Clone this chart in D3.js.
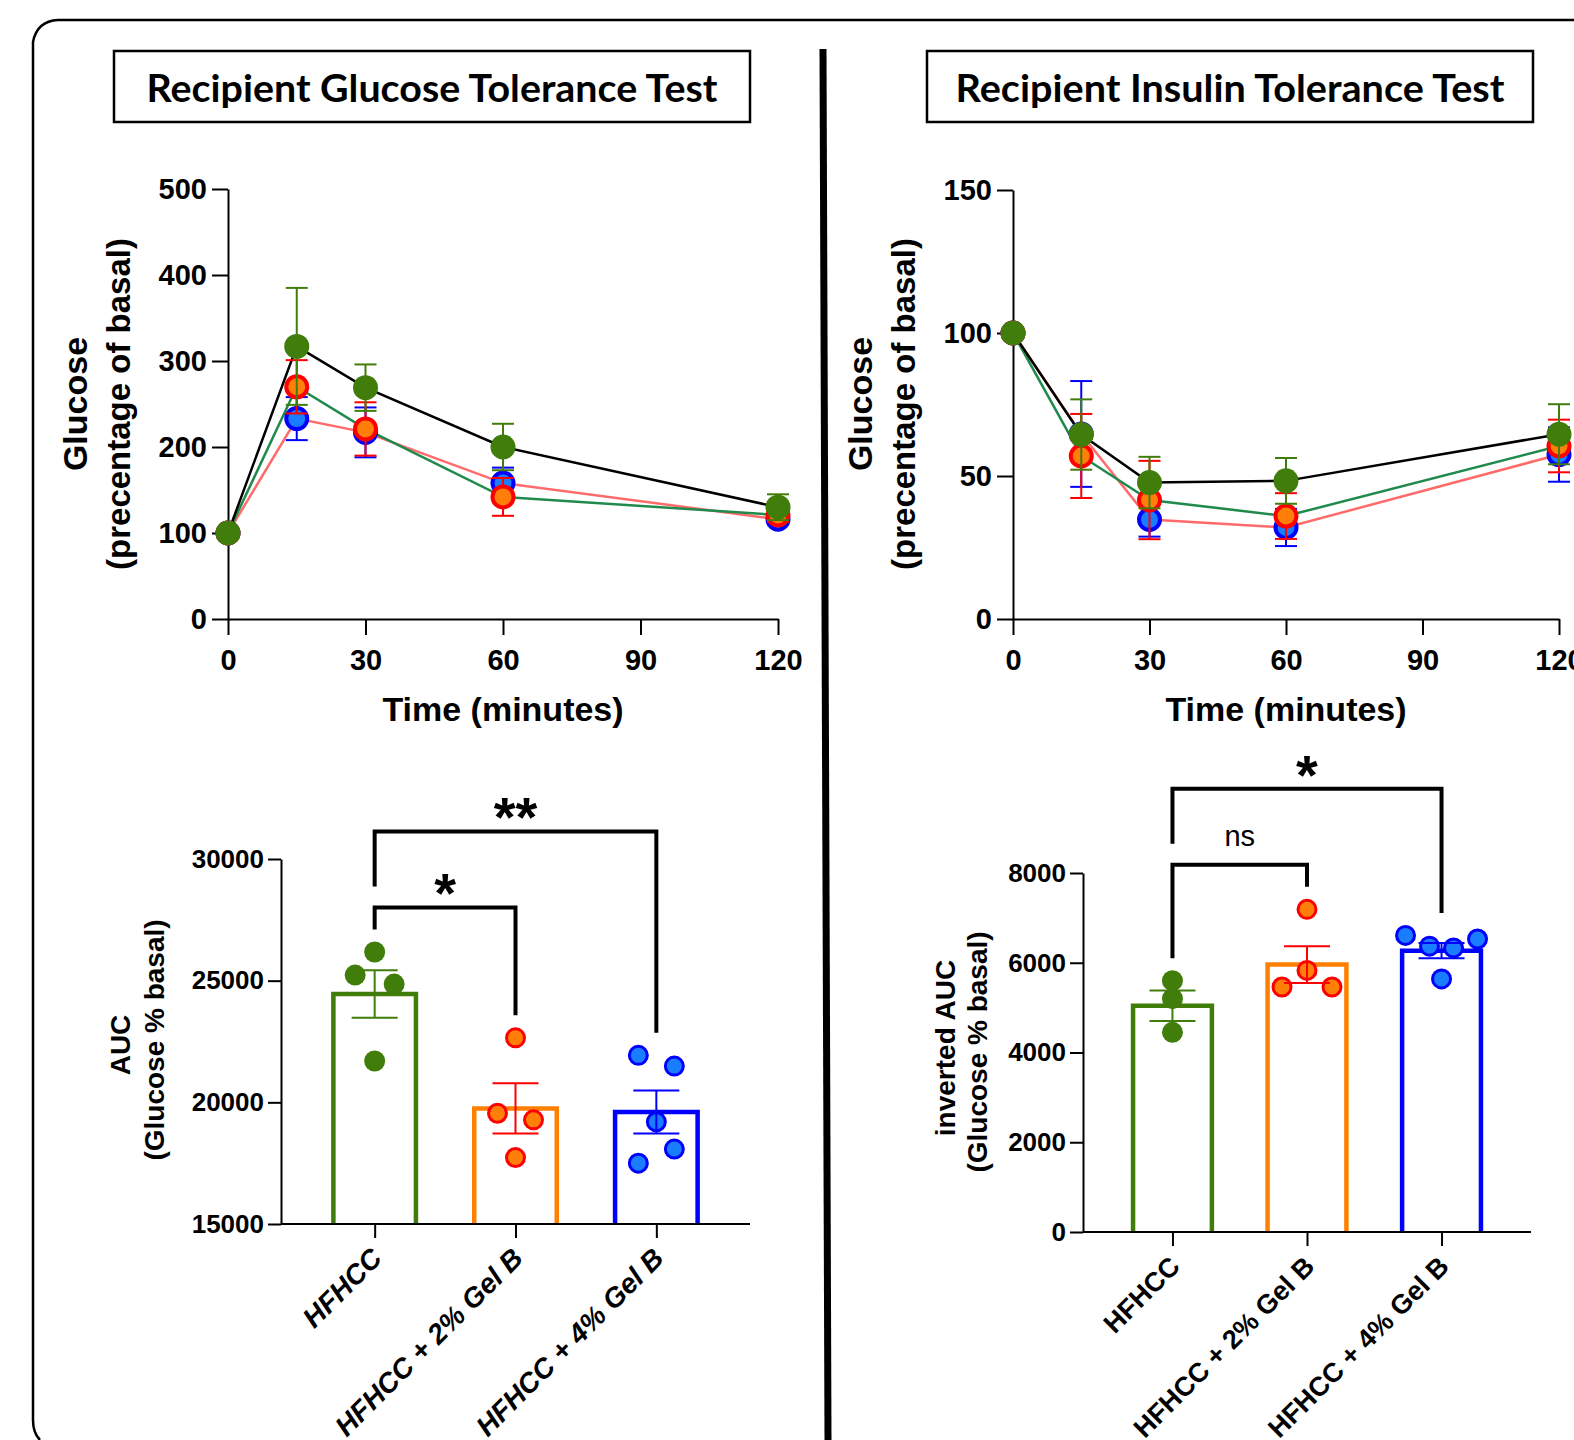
<!DOCTYPE html>
<html>
<head>
<meta charset="UTF-8">
<title>Recipient GTT / ITT</title>
<script src="https://d3js.org/d3.v7.min.js"></script>
<style>
  body { margin: 0; background: #fff; }
  svg text { font-family: "Liberation Sans", Arial, sans-serif; fill: #000; }
</style>
</head>
<body>
<svg id="fig" width="1574" height="1440"></svg>
<script>
// ---- data ----
var times = [0, 15, 30, 60, 120];
var groups = ["HFHCC", "HFHCC + 2% Gel B", "HFHCC + 4% Gel B"];

// glucose tolerance test, glucose as % of basal (mean and sem)
var gttHFHCC = [100, 317, 269, 200, 130];
var gttHFHCCsem = [0, 68, 27, 27, 15];
var gtt2 = [100, 270, 221, 142, 121];
var gtt2sem = [0, 31, 31, 22, 8];
var gtt4 = [100, 233, 217, 158, 116];
var gtt4sem = [0, 25, 29, 18, 6];

// insulin tolerance test
var ittHFHCC = [100, 64.5, 47.7, 48.3, 64.6];
var ittHFHCCsem = [0, 12.3, 9, 8, 10.5];
var itt2 = [100, 57, 41.6, 36, 60.5];
var itt2sem = [0, 14.7, 13.7, 8, 9.2];
var itt4 = [100, 64.7, 34.8, 32, 57.5];
var itt4sem = [0, 18.5, 6, 6.5, 9.5];

var timeTicks = [0, 30, 60, 90, 120];
var gttTicks = [0, 100, 200, 300, 400, 500];
var ittTicks = [0, 50, 100, 150];

// area under curve
var gttAucMean = [24450, 19750, 19600];
var gttAucSem = [975, 1030, 885];
var gttAucPts = [[26180, 25230, 24860, 21700], [22650, 19550, 19280, 17730], [21930, 21490, 19200, 17500, 18080]];
var gttAucTicks = [15000, 20000, 25000, 30000];

var ittAucMean = [5040, 5960, 6270];
var ittAucSem = [340, 410, 170];
var ittAucPts = [[5600, 5200, 4450], [7190, 5830, 5460, 5460], [6610, 6370, 6330, 6530, 5640]];
var ittAucTicks = [0, 2000, 4000, 6000, 8000];

var gttSig = [[0, 1, "*"], [0, 2, "**"]];
var ittSig = [[0, 1, "ns"], [0, 2, "*"]];

// ---- styles ----
var dotFill = ["#417d0a", "#ff7f0a", "#1a7cff"];
var dotStroke = ["#417d0a", "#ff0000", "#0000ff"];
var barStroke = ["#417d0a", "#ff8000", "#0000ff"];
var errColor = ["#417d0a", "#ff0000", "#0000ff"];
var lineColor = ["#000000", "#1f8a4c", "#ff6b6b"];

var svg = d3.select("#fig");
svg.append("rect").attr("width", 1574).attr("height", 1440).attr("fill", "#fff");

// outer frame and divider
svg.append("path")
  .attr("d", "M1574,20 H58 Q37,21 33,42 V1420 Q33,1433 40,1440")
  .attr("fill", "none").attr("stroke", "#000").attr("stroke-width", 2.5);
svg.append("line")
  .attr("x1", 823).attr("y1", 49).attr("x2", 828).attr("y2", 1440)
  .attr("stroke", "#000").attr("stroke-width", 7);

function titleBox(x, w, txt, tw) {
  svg.append("rect").attr("x", x).attr("y", 51).attr("width", w).attr("height", 71)
    .attr("fill", "none").attr("stroke", "#000").attr("stroke-width", 2.5);
  svg.append("text").attr("x", x + w / 2).attr("y", 102)
    .attr("text-anchor", "middle")
    .attr("textLength", tw).attr("lengthAdjust", "spacingAndGlyphs")
    .style("font-family", "Lato, 'Open Sans', sans-serif")
    .style("font-weight", "bold").style("font-size", "38px")
    .text(txt);
}
titleBox(114, 636, "Recipient Glucose Tolerance Test", 571);
titleBox(927, 606, "Recipient Insulin Tolerance Test", 549);

function styleAxis(a, size) {
  a.select(".domain").attr("stroke", "#000").attr("stroke-width", 2);
  a.selectAll(".tick line").attr("stroke", "#000").attr("stroke-width", 2);
  a.selectAll(".tick text")
    .style("font-family", "'Liberation Sans', Arial, sans-serif")
    .style("font-size", size).style("font-weight", "bold").attr("fill", "#000");
}

function lineChart(o) {
  var g = svg.append("g");
  var x = d3.scaleLinear().domain([0, 120]).range([o.x0, o.x1]);
  var y = d3.scaleLinear().domain([0, o.ymax]).range([619, o.ytop]);

  var ax = g.append("g").attr("transform", "translate(0,619)")
    .call(d3.axisBottom(x).tickValues(timeTicks).tickSize(16).tickSizeOuter(0).tickPadding(14));
  var ay = g.append("g").attr("transform", "translate(" + o.x0 + ",0)")
    .call(d3.axisLeft(y).tickValues(o.ticks).tickSize(16).tickSizeOuter(0).tickPadding(5));
  styleAxis(ax, "29px");
  styleAxis(ay, "29px");

  g.append("text").attr("transform", "translate(" + (o.x0 - 141) + ",404) rotate(-90)")
    .attr("text-anchor", "middle").style("font-weight", "bold").style("font-size", "34px")
    .text("Glucose");
  g.append("text").attr("transform", "translate(" + (o.x0 - 98) + ",404) rotate(-90)")
    .attr("text-anchor", "middle").style("font-weight", "bold").style("font-size", "33px")
    .text("(precentage of basal)");
  g.append("text").attr("x", (o.x0 + o.x1) / 2).attr("y", 721)
    .attr("text-anchor", "middle").style("font-weight", "bold").style("font-size", "34px")
    .text("Time (minutes)");

  var line = d3.line().x(function(d, i) { return x(times[i]); }).y(function(d) { return y(d); });
  // draw order: 4%, 2%, HFHCC
  [2, 1, 0].forEach(function(k) {
    g.append("path").attr("d", line(o.means[k])).attr("fill", "none")
      .attr("stroke", lineColor[k]).attr("stroke-width", 2.5);
  });
  [2, 1, 0].forEach(function(k) {
    var gg = g.append("g");
    var m = o.means[k], s = o.sems[k];
    times.forEach(function(t, i) {
      if (!s[i]) return;
      var cx = x(t);
      gg.append("line").attr("x1", cx).attr("x2", cx).attr("y1", y(m[i] - s[i])).attr("y2", y(m[i] + s[i]))
        .attr("stroke", errColor[k]).attr("stroke-width", 2);
      [m[i] - s[i], m[i] + s[i]].forEach(function(v) {
        gg.append("line").attr("x1", cx - 11).attr("x2", cx + 11).attr("y1", y(v)).attr("y2", y(v))
          .attr("stroke", errColor[k]).attr("stroke-width", 2);
      });
    });
    gg.selectAll("circle").data(m).enter().append("circle")
      .attr("cx", function(d, i) { return x(times[i]); })
      .attr("cy", function(d) { return y(d); })
      .attr("r", k === 0 ? 12.5 : 10.5)
      .attr("fill", dotFill[k])
      .attr("stroke", k === 0 ? "none" : dotStroke[k])
      .attr("stroke-width", 4);
  });
}

lineChart({ x0: 228, x1: 778, ymax: 500, ytop: 189, ticks: gttTicks,
  means: [gttHFHCC, gtt2, gtt4], sems: [gttHFHCCsem, gtt2sem, gtt4sem] });
lineChart({ x0: 1013, x1: 1559, ymax: 150, ytop: 190, ticks: ittTicks,
  means: [ittHFHCC, itt2, itt4], sems: [ittHFHCCsem, itt2sem, itt4sem] });

// place dots in rows, spread sideways when values sit close together
function layoutDots(vals, y, r) {
  var items = vals.map(function(v, i) { return { v: v, i: i, py: y(v), dx: 0 }; });
  var sorted = items.slice().sort(function(a, b) { return a.py - b.py; });
  var rows = [], cur = null, last = null;
  sorted.forEach(function(d) {
    if (cur && d.py - last < 16) cur.push(d); else { cur = [d]; rows.push(cur); }
    last = d.py;
  });
  var placed = [];
  rows.forEach(function(row) {
    row.sort(function(a, b) { return a.i - b.i; });
    var n = row.length;
    var step = n > 1 ? Math.min(36, 72 / (n - 1)) : 0;
    for (var it = 0; it < 60; it++) {
      var ok = true;
      row.forEach(function(d, j) { d.dx = (j - (n - 1) / 2) * step; });
      if (n > 1) row.forEach(function(d) {
        placed.forEach(function(p) { if (Math.hypot(d.dx - p.dx, d.py - p.py) < 2 * r + 9) ok = false; });
      });
      if (ok) break;
      step += 1;
    }
    row.forEach(function(d) { placed.push(d); });
  });
  return items;
}

function barChart(o) {
  var g = svg.append("g");
  var x = d3.scalePoint().domain(groups).range([o.x0, o.x1]).padding(0.665);
  var y = d3.scaleLinear().domain(o.domain).range([o.yb, o.yt]);
  var w = x.step() * 0.586;
  var r = 10.5;

  groups.forEach(function(gr, k) {
    var cx = x(gr);
    g.append("path")
      .attr("d", "M" + (cx - w / 2) + "," + o.yb + "V" + y(o.mean[k]) + "H" + (cx + w / 2) + "V" + o.yb)
      .attr("fill", "none").attr("stroke", barStroke[k]).attr("stroke-width", 4.5);
  });

  var dotTop = [];
  groups.forEach(function(gr, k) {
    var cx = x(gr);
    var pts = layoutDots(o.pts[k], y, r);
    dotTop.push(d3.min(pts, function(d) { return d.py; }) - r);
    g.append("g").selectAll("circle").data(pts).enter().append("circle")
      .attr("cx", function(d) { return cx + d.dx; })
      .attr("cy", function(d) { return d.py; })
      .attr("r", k === 0 ? r : r - 1.5)
      .attr("fill", dotFill[k])
      .attr("stroke", k === 0 ? "none" : dotStroke[k])
      .attr("stroke-width", 3);
  });

  groups.forEach(function(gr, k) {
    var cx = x(gr), m = o.mean[k], s = o.sem[k];
    g.append("line").attr("x1", cx).attr("x2", cx).attr("y1", y(m - s)).attr("y2", y(m + s))
      .attr("stroke", errColor[k]).attr("stroke-width", 2);
    [m - s, m + s].forEach(function(v) {
      g.append("line").attr("x1", cx - 23).attr("x2", cx + 23).attr("y1", y(v)).attr("y2", y(v))
        .attr("stroke", errColor[k]).attr("stroke-width", 2);
    });
  });

  var ax = g.append("g").attr("transform", "translate(0," + o.yb + ")")
    .call(d3.axisBottom(x).tickSize(14).tickSizeOuter(0).tickFormat(""));
  ax.select(".domain").attr("d", "M" + o.x0 + ",0H" + o.x1);
  var ay = g.append("g").attr("transform", "translate(" + o.x0 + ",0)")
    .call(d3.axisLeft(y).tickValues(o.ticks).tickSize(13).tickSizeOuter(0).tickPadding(4).tickFormat(d3.format("d")));
  styleAxis(ax, "26px");
  styleAxis(ay, "26px");

  g.selectAll(".cat").data(groups).enter().append("text")
    .attr("transform", function(d) { return "translate(" + (x(d) + 9) + "," + (o.yb + 36) + ") rotate(-45)"; })
    .attr("text-anchor", "end")
    .style("font-weight", "bold").style("font-size", o.catSize)
    .style("font-style", o.italic ? "italic" : "normal")
    .text(function(d) { return d; });

  o.titles.forEach(function(t) {
    g.append("text").attr("transform", "translate(" + t[1] + "," + t[2] + ") rotate(-90)")
      .attr("text-anchor", "middle").style("font-weight", "bold").style("font-size", "28px")
      .text(t[0]);
  });

  // significance brackets
  var prevTop = null;
  o.sig.forEach(function(s, k) {
    var x1 = x(groups[s[0]]), x2 = x(groups[s[1]]);
    var lb = k === 0 ? dotTop[s[0]] - 12 : prevTop - 21;
    var rb = dotTop[s[1]] - 12;
    var top = k === 0 ? Math.min(lb, rb) - 22 : prevTop - 76;
    g.append("path").attr("d", "M" + x1 + "," + lb + "V" + top + "H" + x2 + "V" + rb)
      .attr("fill", "none").attr("stroke", "#000").attr("stroke-width", 4);
    var isStar = s[2].indexOf("*") >= 0;
    g.append("text").attr("x", (x1 + x2) / 2)
      .attr("y", isStar ? top + 5 : top - 19)
      .attr("text-anchor", "middle")
      .style("font-weight", isStar ? "bold" : "normal")
      .style("font-size", isStar ? "56px" : "29px")
      .text(s[2]);
    prevTop = top;
  });
}

barChart({ x0: 281, x1: 750, yb: 1224, yt: 859, domain: [15000, 30000], ticks: gttAucTicks,
  mean: gttAucMean, sem: gttAucSem, pts: gttAucPts, sig: gttSig, italic: true, catSize: "28px",
  titles: [["AUC", 130, 1045], ["(Glucose % basal)", 164, 1040]] });
barChart({ x0: 1083, x1: 1531, yb: 1232, yt: 873, domain: [0, 8000], ticks: ittAucTicks,
  mean: ittAucMean, sem: ittAucSem, pts: ittAucPts, sig: ittSig, italic: false, catSize: "27px",
  titles: [["inverted AUC", 955, 1048], ["(Glucose % basal)", 987, 1052]] });
</script>
</body>
</html>
